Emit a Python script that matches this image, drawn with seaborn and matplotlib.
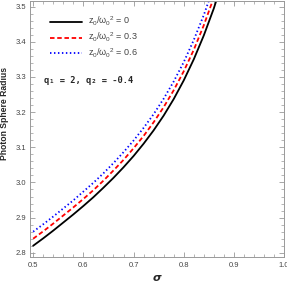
import numpy as np
import pandas as pd
import matplotlib
matplotlib.use("Agg")
import matplotlib.pyplot as plt
import seaborn as sns
from matplotlib.ticker import MultipleLocator

# values
sigma = [0.50, 0.52, 0.54, 0.56, 0.58, 0.60, 0.62, 0.64, 0.66, 0.68,
         0.70, 0.72, 0.74, 0.76, 0.78, 0.80, 0.82, 0.84, 0.86, 0.87]
r_00 = [2.820, 2.841, 2.863, 2.886, 2.909, 2.933, 2.958, 2.985, 3.013, 3.043,
        3.075, 3.110, 3.148, 3.190, 3.237, 3.290, 3.350, 3.418, 3.495, 3.540]
r_03 = [2.840, 2.861, 2.883, 2.906, 2.929, 2.953, 2.978, 3.005, 3.034, 3.064,
        3.097, 3.132, 3.171, 3.214, 3.262, 3.316, 3.377, 3.447, 3.526, 3.570]
r_06 = [2.860, 2.881, 2.903, 2.926, 2.949, 2.974, 2.999, 3.026, 3.055, 3.086,
        3.119, 3.155, 3.194, 3.238, 3.287, 3.342, 3.405, 3.476, 3.557, 3.600]
labels = [r"$z_0/{\omega_0}^2$ = 0", r"$z_0/{\omega_0}^2$ = 0.3", r"$z_0/{\omega_0}^2$ = 0.6"]

sns.set_style("ticks")
plt.rcParams["font.family"] = ["Liberation Sans", "DejaVu Sans"]
plt.rcParams["mathtext.fontset"] = "custom"
plt.rcParams["mathtext.rm"] = "Liberation Sans"
plt.rcParams["mathtext.it"] = "Liberation Sans"

fig = plt.figure(figsize=(2.87, 2.85), dpi=100)
ax = fig.add_axes([0.105, 0.097, 0.885, 0.901])

styles = [("black", "-"), ("red", (0, (2.5, 1.5))), ("blue", (0, (0.8, 1.4)))]
for ys, lab, (c, ls) in zip([r_00, r_03, r_06], labels, styles):
    df = pd.DataFrame({"sigma": sigma, "r": ys})
    sns.lineplot(data=df, x="sigma", y="r", color=c, linestyle=ls,
                 linewidth=1.3, label=lab, ax=ax)

ax.set_xlim(0.494, 1.0)
ax.set_ylim(2.787, 3.517)
ax.xaxis.set_major_locator(MultipleLocator(0.1))
ax.xaxis.set_minor_locator(MultipleLocator(0.02))
ax.yaxis.set_major_locator(MultipleLocator(0.1))
ax.yaxis.set_minor_locator(MultipleLocator(0.02))
ax.xaxis.set_major_formatter(matplotlib.ticker.FormatStrFormatter("%.1f"))
ax.yaxis.set_major_formatter(matplotlib.ticker.FormatStrFormatter("%.1f"))
ax.tick_params(which="both", direction="in", top=True, right=True,
               colors="#999999", labelcolor="#444444", labelsize=5.5, pad=3)
ax.tick_params(which="major", length=3.5, width=0.6)
ax.tick_params(which="minor", length=2, width=0.5)
for s in ax.spines.values():
    s.set_color("#999999")
    s.set_linewidth(0.7)

ax.set_xlabel("σ", fontsize=8, fontweight="bold", fontstyle="italic",
              family="DejaVu Sans", labelpad=3)
ax.set_ylabel("Photon Sphere Radius", fontsize=6.2, fontweight="bold", labelpad=5)
ax.yaxis.set_label_coords(-0.085, 0.56)

leg = ax.legend(loc="upper left", bbox_to_anchor=(0.045, 0.975), frameon=False,
                fontsize=6.5, handlelength=3.6, labelspacing=0.3,
                handletextpad=0.6)
for t in leg.get_texts():
    t.set_color("#444444")

ax.text(0.055, 0.69, "q\u2081 = 2, q\u2082 = -0.4", transform=ax.transAxes,
        family="DejaVu Sans Mono", fontweight="bold", fontsize=6.3, va="center")

fig.savefig("out.png", dpi=100)
